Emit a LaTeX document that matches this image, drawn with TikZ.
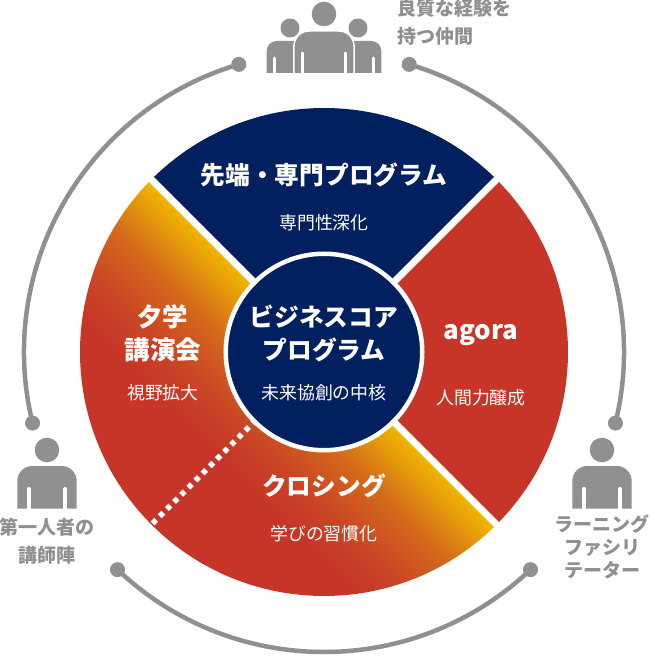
\documentclass[tikz,border=0pt]{standalone}
\usepackage{fontspec}
\setmainfont{Noto Sans CJK JP}
\definecolor{core-navy}{HTML}{012060}
\definecolor{core-red}{HTML}{C63528}
\definecolor{core-yellow}{HTML}{F0BA00}
\definecolor{core-amber}{HTML}{E5990A}
\definecolor{core-orange}{HTML}{D46A1B}
\definecolor{core-rust}{HTML}{CA4525}
\definecolor{icon-gray}{HTML}{918F90}
\pgfdeclarehorizontalshading{closingshade}{520pt}{color(0pt)=(core-yellow); color(25pt)=(core-amber); color(60pt)=(core-orange); color(110pt)=(core-rust); color(150pt)=(core-red); color(340pt)=(core-red)}
\tikzset{
	titlelabel/.style={text=white, font=\bfseries\fontsize{24.7}{33}\selectfont, align=center, inner sep=0pt},
	sublabel/.style={text=white, font=\fontsize{17.9}{22}\selectfont, inner sep=0pt},
	graylabel/.style={text=icon-gray, font=\bfseries\fontsize{19}{27.5}\selectfont, align=center, inner sep=0pt},
	ringline/.style={draw=icon-gray, line width=4.5pt},
	ringdot/.style={circle, fill=icon-gray, minimum size=15pt, inner sep=0pt},
	gapline/.style={white, line width=7pt},
}
% Person made of a head, a body and two arm slits
\newcommand{\personicon}[2]{
	\fill[icon-gray] (#1,#2) circle (12.3);
	\fill[icon-gray] (#1-29.7,#2-58.7) -- (#1-29.7,#2-31) arc[start angle=180, end angle=90, radius=15] -- (#1+14.7,#2-16) arc[start angle=90, end angle=0, radius=15] -- (#1+29.7,#2-58.7) -- cycle;
	\draw[white, line width=4pt, line cap=round] (#1-18,#2-60) -- (#1-18,#2-39);
	\draw[white, line width=4pt, line cap=round] (#1+18,#2-60) -- (#1+18,#2-39);
}
\begin{document}
\begin{tikzpicture}[x=1pt, y=1pt, node distance=48pt]
		\useasboundingbox (-324,-304) rectangle (326,352);
		
		% Draw the two flat sectors
		\fill[core-navy] (135:100) -- (135:244) arc[start angle=135, end angle=45, radius=244] -- (45:100) -- cycle;
		\fill[core-red] (45:100) -- (45:244) arc[start angle=45, end angle=-45, radius=244] -- (-45:100) -- cycle;
		
		% Draw the shaded half
		\begin{scope}
			\clip (135:100) -- (135:244) arc[start angle=135, end angle=315, radius=244] -- (-45:100) -- cycle;
			\node (closingfill) [rotate=-135, anchor=west, inner sep=0pt] at (0,0) {\pgfuseshading{closingshade}};
		\end{scope}
		
		% Draw the gaps between the sectors
		\coordinate (northwest) at (135:250);
		\coordinate (northeast) at (45:250);
		\coordinate (southeast) at (-45:250);
		\coordinate (southwest) at (-135:244);
		\coordinate (middle) at (0,0);
		\draw[gapline] (middle) -- (northwest);
		\draw[gapline] (middle) -- (northeast);
		\draw[gapline] (middle) -- (southeast);
		\draw[white, line width=5.5pt, dash pattern=on 5pt off 5.1pt, dash phase=2pt] (-135:98) -- (southwest);
		
		% Draw the core circle
		\node (core) [circle, fill=core-navy, draw=white, line width=4.5pt, minimum size=196.5pt, inner sep=0pt] at (0,0) {};
		\node (coretitle) [titlelabel] at (0,19) {ビジネスコア\\プログラム};
		\node (coresub) [sublabel, below of=coretitle, yshift=-12pt] {未来協創の中核};
		
		% Draw the four sector labels
		\node (advanced) [titlelabel] at (0,177) {先端・専門プログラム};
		\node (advancedsub) [sublabel, below of=advanced] {専門性深化};
		\node (lecture) [titlelabel, font=\bfseries\fontsize{25.5}{33}\selectfont] at (-161,19) {夕学\\講演会};
		\node (lecturesub) [sublabel, below of=lecture, yshift=-12pt] {視野拡大};
		\node (agora) [titlelabel, font=\bfseries\fontsize{26}{33}\selectfont] at (157,17) {agora};
		\node (agorasub) [sublabel, below of=agora, yshift=-15pt] {人間力醸成};
		\node (closing) [titlelabel] at (0,-134) {クロシング};
		\node (closingsub) [sublabel, below of=closing] {学びの習慣化};
		
		% Draw the outer ring with its dots
		\node (dotnw) [ringdot] at (106.5:300) {};
		\node (dotne) [ringdot] at (73.5:300) {};
		\node (dotwn) [ringdot] at (193.7:300) {};
		\node (dotws) [ringdot] at (226.5:300) {};
		\node (dotes) [ringdot] at (313.5:300) {};
		\node (doten) [ringdot] at (346.3:300) {};
		\draw[ringline] (dotnw.center) arc[start angle=106.5, end angle=193.7, radius=300];
		\draw[ringline] (dotws.center) arc[start angle=226.5, end angle=313.5, radius=300];
		\draw[ringline] (doten.center) arc[start angle=346.3, end angle=433.5, radius=300];
		
		% Draw the single people
		\personicon{-277}{-98}
		\personicon{278}{-98}
		
		% Draw the group of three
		\fill[icon-gray] (-34,324) circle (9.5);
		\fill[icon-gray] (34,324) circle (9.5);
		\fill[icon-gray] (-57.3,279) -- (-57.3,301) arc[start angle=180, end angle=90, radius=10] -- (47.3,311) arc[start angle=90, end angle=0, radius=10] -- (57.3,279) -- cycle;
		\draw[white, line width=3pt, line cap=round] (-49,278) -- (-49,294);
		\draw[white, line width=3pt, line cap=round] (49,278) -- (49,294);
		\fill[icon-gray] (0,338) circle (12.3);
		\filldraw[icon-gray, draw=white, line width=1.5pt] (-30,279) -- (-30,306) arc[start angle=180, end angle=90, radius=15] -- (15,321) arc[start angle=90, end angle=0, radius=15] -- (30,279);
		\draw[white, line width=3pt, line cap=round] (-21,278) -- (-21,299);
		\draw[white, line width=3pt, line cap=round] (21,278) -- (21,299);
		\draw[white, line width=1.5pt] (-35,278.3) -- (35,278.3);
		
		% Draw the gray labels
		\node (grouplabel) [graylabel, anchor=north west, align=left] at (73,353) {良質な経験を\\持つ仲間};
		\node (firstlabel) [graylabel] at (-277,-189) {第一人者の\\講師陣};
		\node (learninglabel) [graylabel, font=\bfseries\fontsize{19}{23}\selectfont] at (278,-195) {ラーニング\\ファシリ\\テーター};
		
		\end{tikzpicture}
\end{document}
